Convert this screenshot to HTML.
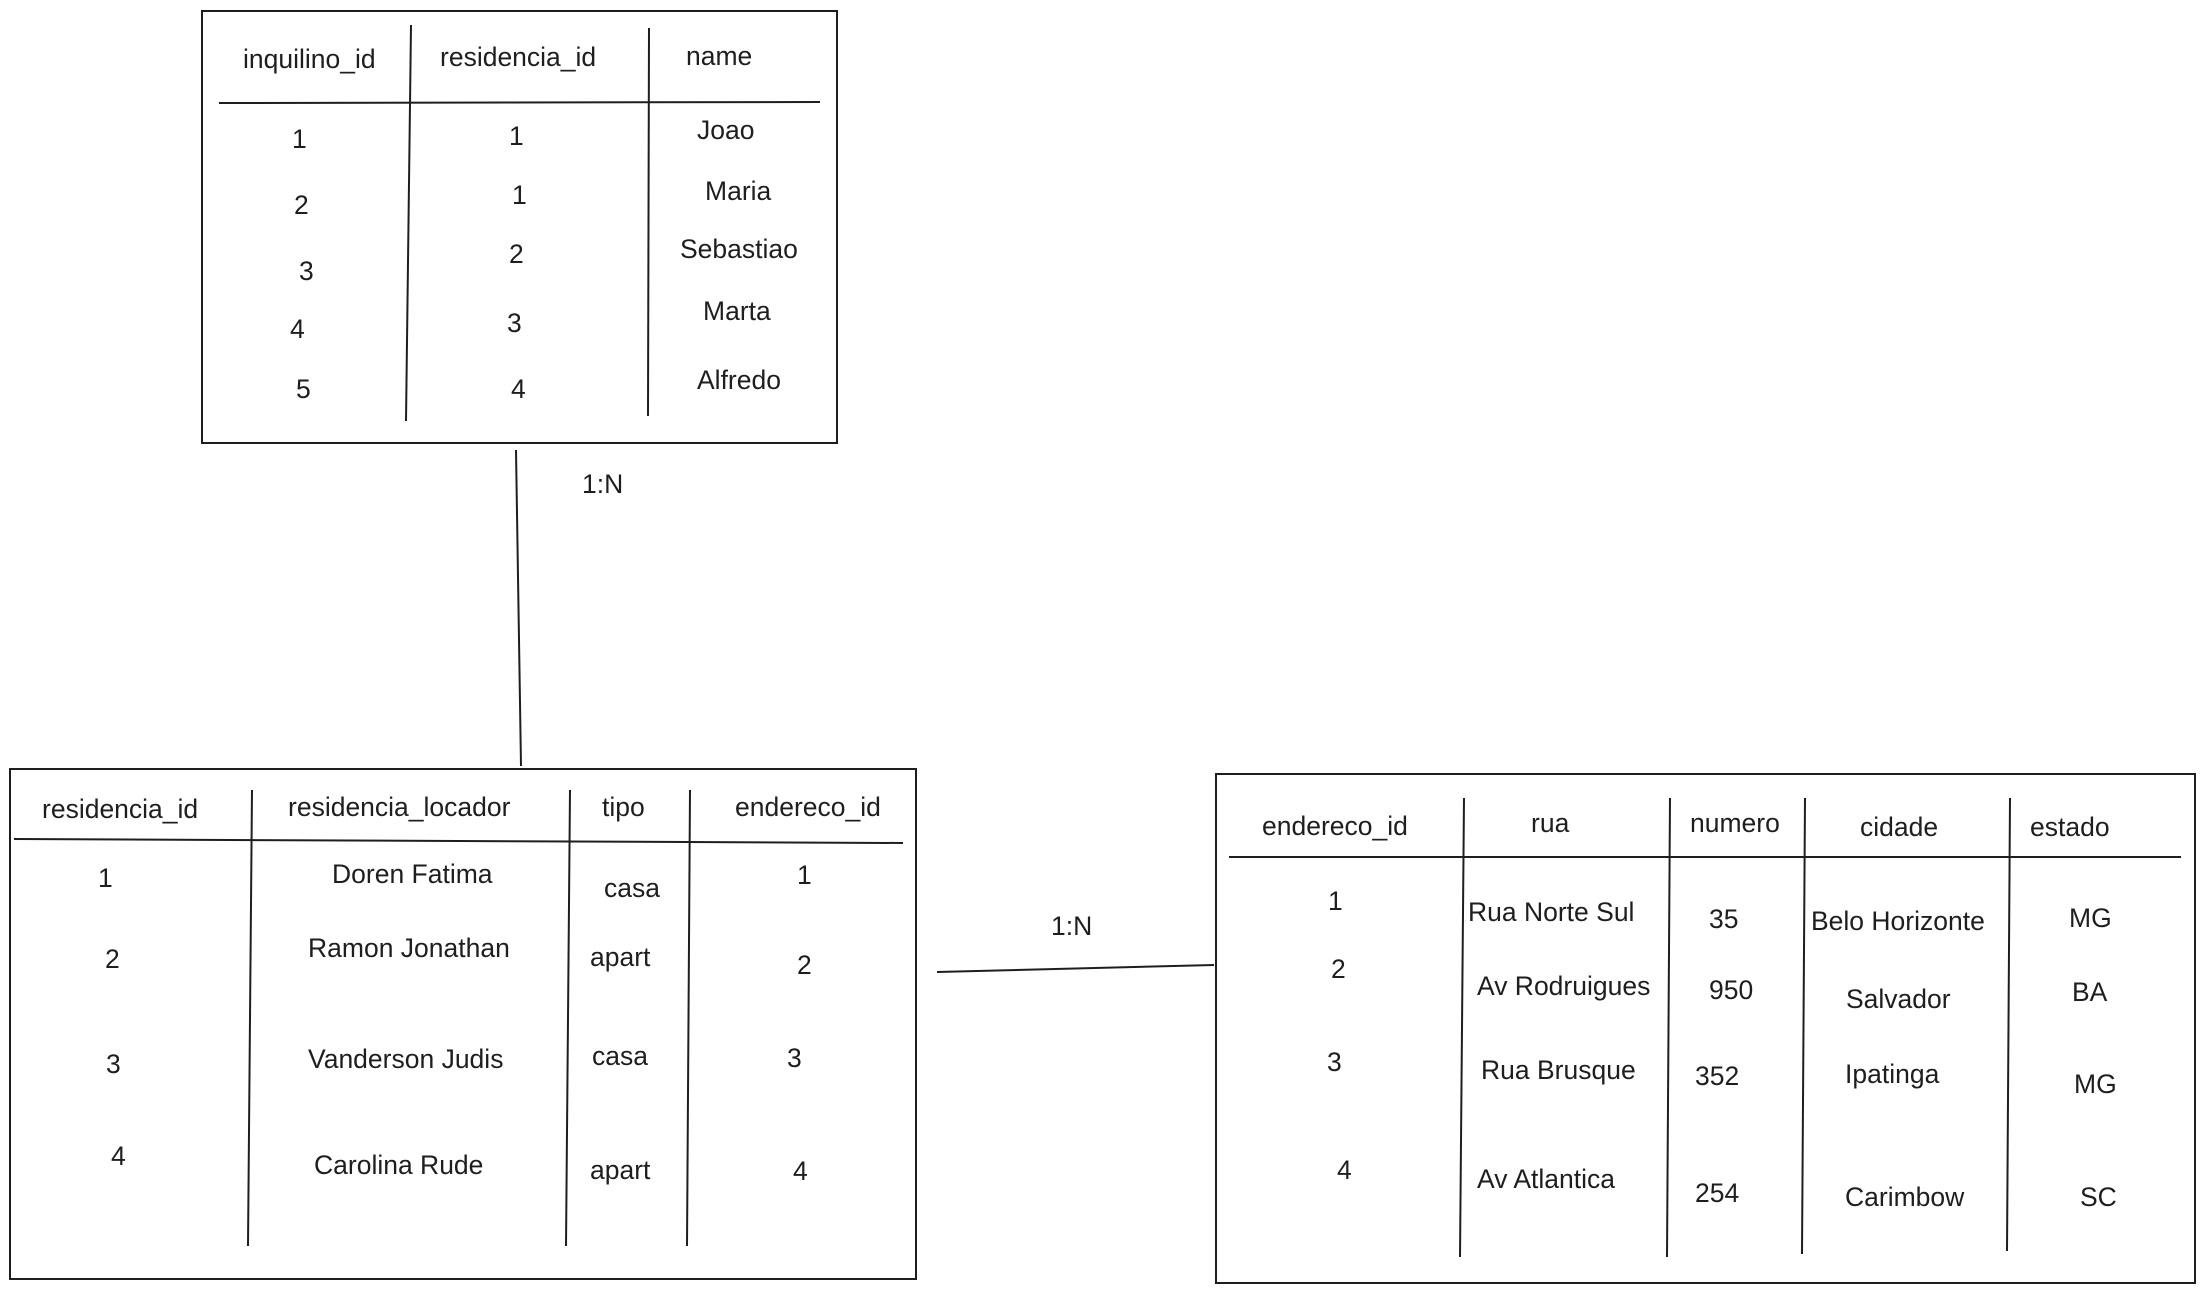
<!DOCTYPE html>
<html><head><meta charset="utf-8"><style>
html,body{margin:0;padding:0;background:#fff;}
svg{display:block;}
text{font-family:"Liberation Sans",sans-serif;font-size:26.5px;fill:#1e1e1e;dominant-baseline:middle;}
line,rect{stroke:#1e1e1e;stroke-width:2;fill:none;}
</style></head><body>
<svg width="2203" height="1292" viewBox="0 0 2203 1292" xmlns="http://www.w3.org/2000/svg">
<rect x="202" y="11" width="635" height="432"/>
<line x1="219" y1="103" x2="820" y2="102"/>
<line x1="411" y1="25" x2="406" y2="421"/>
<line x1="649" y1="28" x2="648" y2="416"/>
<text x="243" y="61">inquilino_id</text>
<text x="440" y="59">residencia_id</text>
<text x="686" y="58">name</text>
<text x="292" y="141">1</text><text x="509" y="138">1</text><text x="697" y="132">Joao</text>
<text x="294" y="207">2</text><text x="512" y="197">1</text><text x="705" y="193">Maria</text>
<text x="299" y="273">3</text><text x="509" y="256">2</text><text x="680" y="251">Sebastiao</text>
<text x="290" y="331">4</text><text x="507" y="325">3</text><text x="703" y="313">Marta</text>
<text x="296" y="391">5</text><text x="511" y="391">4</text><text x="697" y="382">Alfredo</text>
<line x1="516" y1="450" x2="521" y2="766"/>
<text x="582" y="486">1:N</text>
<rect x="10" y="769" width="906" height="510"/>
<line x1="14" y1="839" x2="903" y2="843"/>
<line x1="252" y1="790" x2="248" y2="1246"/>
<line x1="570" y1="790" x2="566" y2="1246"/>
<line x1="690" y1="790" x2="687" y2="1246"/>
<text x="42" y="811">residencia_id</text>
<text x="288" y="809">residencia_locador</text>
<text x="602" y="809">tipo</text>
<text x="735" y="809">endereco_id</text>
<text x="98" y="880">1</text><text x="332" y="876">Doren Fatima</text><text x="604" y="890">casa</text><text x="797" y="877">1</text>
<text x="105" y="961">2</text><text x="308" y="950">Ramon Jonathan</text><text x="590" y="959">apart</text><text x="797" y="967">2</text>
<text x="106" y="1066">3</text><text x="308" y="1061">Vanderson Judis</text><text x="592" y="1058">casa</text><text x="787" y="1060">3</text>
<text x="111" y="1158">4</text><text x="314" y="1167">Carolina Rude</text><text x="590" y="1172">apart</text><text x="793" y="1173">4</text>
<line x1="937" y1="972" x2="1214" y2="965"/>
<text x="1051" y="928">1:N</text>
<rect x="1216" y="774" width="979" height="509"/>
<line x1="1229" y1="857" x2="2181" y2="857"/>
<line x1="1464" y1="798" x2="1460" y2="1257"/>
<line x1="1670" y1="798" x2="1667" y2="1257"/>
<line x1="1805" y1="798" x2="1802" y2="1254"/>
<line x1="2010" y1="798" x2="2007" y2="1251"/>
<text x="1262" y="828">endereco_id</text>
<text x="1531" y="825">rua</text>
<text x="1690" y="825">numero</text>
<text x="1860" y="829">cidade</text>
<text x="2030" y="829">estado</text>
<text x="1328" y="903">1</text><text x="1468" y="914">Rua Norte Sul</text><text x="1709" y="921">35</text><text x="1811" y="923">Belo Horizonte</text><text x="2069" y="920">MG</text>
<text x="1331" y="971">2</text><text x="1477" y="988">Av Rodruigues</text><text x="1709" y="992">950</text><text x="1846" y="1001">Salvador</text><text x="2072" y="994">BA</text>
<text x="1327" y="1064">3</text><text x="1481" y="1072">Rua Brusque</text><text x="1695" y="1078">352</text><text x="1845" y="1076">Ipatinga</text><text x="2074" y="1086">MG</text>
<text x="1337" y="1172">4</text><text x="1477" y="1181">Av Atlantica</text><text x="1695" y="1195">254</text><text x="1845" y="1199">Carimbow</text><text x="2080" y="1199">SC</text>
</svg>
</body></html>
